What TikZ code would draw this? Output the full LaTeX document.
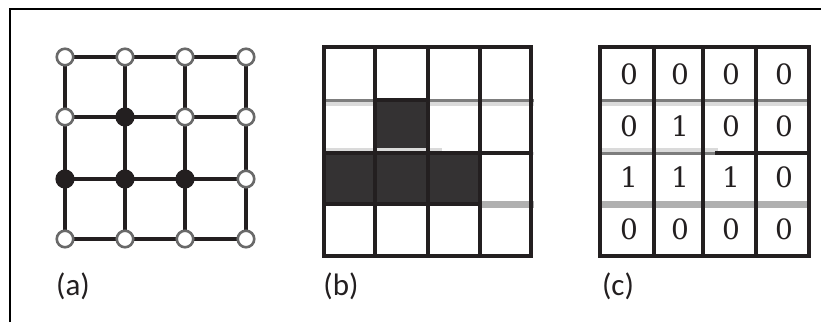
\documentclass[tikz,border=0pt]{standalone}
\usepackage{fontspec}
\newfontfamily\labfont{Carlito}
\newfontfamily\digfont{DejaVu Serif}
\definecolor{ink}{RGB}{35,31,32}
\definecolor{cellfill}{RGB}{52,50,51}
\definecolor{gA}{RGB}{125,125,125}
\definecolor{gB}{RGB}{218,218,218}
\definecolor{gC}{RGB}{176,176,176}
\definecolor{ringgray}{RGB}{105,105,105}
\tikzset{
  opennode/.style={circle, draw=ringgray, line width=2.6pt, fill=white, minimum size=16.5pt, inner sep=0pt},
  fullnode/.style={circle, draw=ink, line width=2.6pt, fill=ink, minimum size=16.5pt, inner sep=0pt},
  edge/.style={draw=ink, line width=3.3pt},
  gridline/.style={draw=ink, line width=3.3pt},
  caplabel/.style={font=\labfont\fontsize{31}{31}\selectfont, inner sep=0pt, text=ink},
  digit/.style={font=\digfont\fontsize{28}{28}\selectfont, inner sep=0pt, text=ink}
}
\begin{document}
\begin{tikzpicture}[x=1pt,y=-1pt]
\useasboundingbox (0,0) rectangle (821,322);
\fill[white] (0,0) rectangle (821,322);
% frame
\draw[line width=2.5pt, black] (10,322) -- (10,9) -- (821,9);

% ---------- (a) ----------
\foreach \c/\x in {0/65,1/125,2/185,3/246}{
  \foreach \r/\y in {0/57,1/117,2/179,3/239}{
    \coordinate (p\c\r) at (\x,\y);
  }
}
\foreach \r in {0,1,2,3}{
  \draw[edge] (p0\r) -- (p1\r) -- (p2\r) -- (p3\r);
}
\foreach \c in {0,1,2,3}{
  \draw[edge] (p\c0) -- (p\c1) -- (p\c2) -- (p\c3);
}
\node[opennode] (n00) at (p00) {};
\node[opennode] (n10) at (p10) {};
\node[opennode] (n20) at (p20) {};
\node[opennode] (n30) at (p30) {};
\node[opennode] (n01) at (p01) {};
\node[fullnode] (n11) at (p11) {};
\node[opennode] (n21) at (p21) {};
\node[opennode] (n31) at (p31) {};
\node[fullnode] (n02) at (p02) {};
\node[fullnode] (n12) at (p12) {};
\node[fullnode] (n22) at (p22) {};
\node[opennode] (n32) at (p32) {};
\node[opennode] (n03) at (p03) {};
\node[opennode] (n13) at (p13) {};
\node[opennode] (n23) at (p23) {};
\node[opennode] (n33) at (p33) {};
\node[caplabel] (la) at (73,286) {(a)};

% ---------- (b) ----------
\fill[cellfill] (375,100) rectangle (428,153);
\fill[cellfill] (324,153) rectangle (480,205);
% gray artefacts
\fill[gA] (324,99) rectangle (375,101.7);
\fill[gB] (324,101.7) rectangle (375,106);
\fill[gA] (428,99) rectangle (534,101.7);
\fill[gB] (428,101.7) rectangle (534,106);
\fill[gB] (324,147.7) rectangle (442,151.7);
\fill[gB] (531,151.7) rectangle (534,155);
\fill[gC] (480,201) rectangle (534,207.7);
% grid lines
\draw[gridline] (324,47) rectangle (531,256);
\draw[gridline] (375,47) -- (375,256);
\draw[gridline] (428,47) -- (428,256);
\draw[gridline] (480,47) -- (480,256);
\draw[gridline] (375,100) -- (428,100);
\draw[gridline] (324,153) -- (531,153);
\draw[gridline] (324,204) -- (480,204);
\node[caplabel] (lb) at (341,286) {(b)};

% ---------- (c) ----------
\fill[gA] (600,99) rectangle (809,101.7);
\fill[gB] (600,101.7) rectangle (809,106);
\fill[gB] (600,147.7) rectangle (718,151.7);
\fill[gA] (600,151.7) rectangle (716,155);
\fill[gC] (600,201) rectangle (809,207.7);
\draw[gridline] (600,47) rectangle (809,256);
\draw[gridline] (654,47) -- (654,256);
\draw[gridline] (703,47) -- (703,256);
\draw[gridline] (756,47) -- (756,256);
\draw[gridline] (715,153) -- (809,153);
\foreach \r/\y/\a/\b/\cc/\d in {0/74/0/0/0/0, 1/126/0/1/0/0, 2/177/1/1/1/0, 3/229/0/0/0/0}{
  \node[digit] (d0\r) at (629,\y) {\a};
  \node[digit] (d1\r) at (680,\y) {\b};
  \node[digit] (d2\r) at (731,\y) {\cc};
  \node[digit] (d3\r) at (784,\y) {\d};
}
\node[caplabel] (lc) at (618,286) {(c)};
\end{tikzpicture}
\end{document}
